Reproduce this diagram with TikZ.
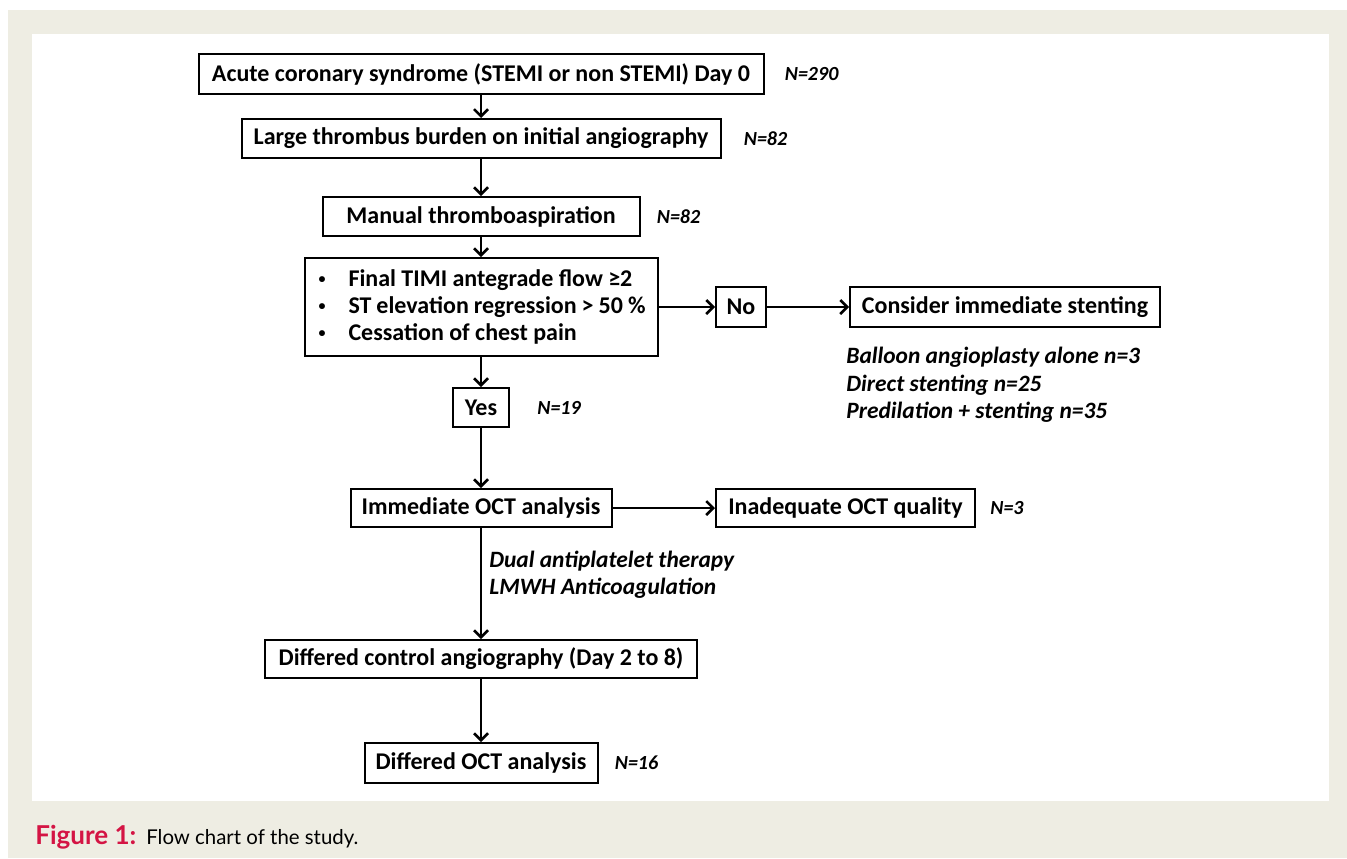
\documentclass[tikz,border=0pt]{standalone}
\usepackage{fontspec}
\setmainfont{Carlito}
\newfontfamily\capfont{Lato}
\usetikzlibrary{arrows.meta,positioning}
\definecolor{pagegray}{RGB}{238,237,227}
\definecolor{figred}{RGB}{212,20,68}
\tikzset{
    box/.style={draw, line width=1pt, font=\bfseries\fontsize{12}{13.5}\selectfont,
        inner sep=0pt, minimum height=20pt},
    count/.style={font=\bfseries\itshape\fontsize{10}{12}\selectfont, inner sep=0pt},
    note/.style={font=\bfseries\itshape\fontsize{11.7}{13.7}\selectfont, align=flush left, inner sep=0pt},
    flow/.style={line width=1.25pt, -{Straight Barb[length=3.5pt,width=7pt]}},
}
\newcommand{\bul}{\makebox[16pt][l]{\hspace{1pt}\raisebox{1.6pt}{\fontsize{7}{7}\selectfont\textbullet}}}

\begin{document}
\begin{tikzpicture}[x=0.5pt, y=-0.5pt]
        % page and panel
        \fill[white] (0,0) rectangle (1347,858);
        \fill[pagegray] (8,10) rectangle (1347,858);
        \fill[white] (32,34) rectangle (1329,801);

        % main column
        \node[box, minimum width=282.5pt] (acs) at (481,74) {Acute coronary syndrome (STEMI or non STEMI) Day 0};
        \node[box, minimum width=239.5pt, minimum height=19.5pt] (thr) at (481,138.5) {Large thrombus burden on initial angiography};
        \node[box, minimum width=158.5pt, minimum height=19.5pt] (asp) at (481,216.5) {Manual thromboaspiration};
        \node[box, minimum width=176.5pt, minimum height=49pt, text width=164.5pt, align=flush left] (crit) at (481,307)
            {\bul Final TIMI antegrade flow ≥2\\ \bul ST elevation regression > 50 \%\\ \bul Cessation of chest pain};
        \node[box, minimum width=28pt, minimum height=19.5pt] (yes) at (481,407.5) {Yes};
        \node[box, minimum width=130.5pt, minimum height=19pt] (oct) at (481,508) {Immediate OCT analysis};
        \node[box, minimum width=216pt, minimum height=19pt] (ctrl) at (481,659) {Differed control angiography (Day 2 to 8)};
        \node[box, minimum width=116.5pt] (doct) at (481,763) {Differed OCT analysis};

        % side branches
        \node[box, minimum width=25pt] (no) at (741,307) {No};
        \node[box, minimum width=155pt] (stent) at (1005,307) {Consider immediate stenting};
        \node[box, minimum width=129.5pt, minimum height=19pt] (inad) at (845.5,508) {Inadequate OCT quality};

        % counts
        \node[count, right=10pt of acs] (nacs) {N=290};
        \node[count, right=11pt of thr] (nthr) {N=82};
        \node[count, right=8pt of asp] (nasp) {N=82};
        \node[count, right=13.5pt of yes] (nyes) {N=19};
        \node[count, right=7pt of inad] (ninad) {N=3};
        \node[count, right=8pt of doct] (ndoct) {N=16};

        % notes
        \node[note, anchor=west] (stentnote) at (846,385)
            {Balloon angioplasty alone n=3\\ Direct stenting n=25\\ Predilation + stenting n=35};
        \node[note, anchor=west] (drugs) at (489,575) {Dual antiplatelet therapy\\ LMWH Anticoagulation};

        % arrows
        \draw[flow] (acs) -- (thr);
        \draw[flow] (thr) -- (asp);
        \draw[flow] (asp) -- (crit);
        \draw[flow] (crit) -- (no);
        \draw[flow] (no) -- (stent);
        \draw[flow] (crit) -- (yes);
        \draw[flow] (yes) -- (oct);
        \draw[flow] (oct) -- (inad);
        \draw[flow] (oct) -- (ctrl);
        \draw[flow] (ctrl) -- (doct);

        % caption
        \node[anchor=base west, inner sep=0pt, font=\capfont\fontsize{10.2}{12}\selectfont] (caption) at (35,844)
            {\textcolor{figred}{\fontsize{13}{14}\selectfont\bfseries Figure 1:}\hspace{5pt}Flow chart of the study.};
\end{tikzpicture}
\end{document}
